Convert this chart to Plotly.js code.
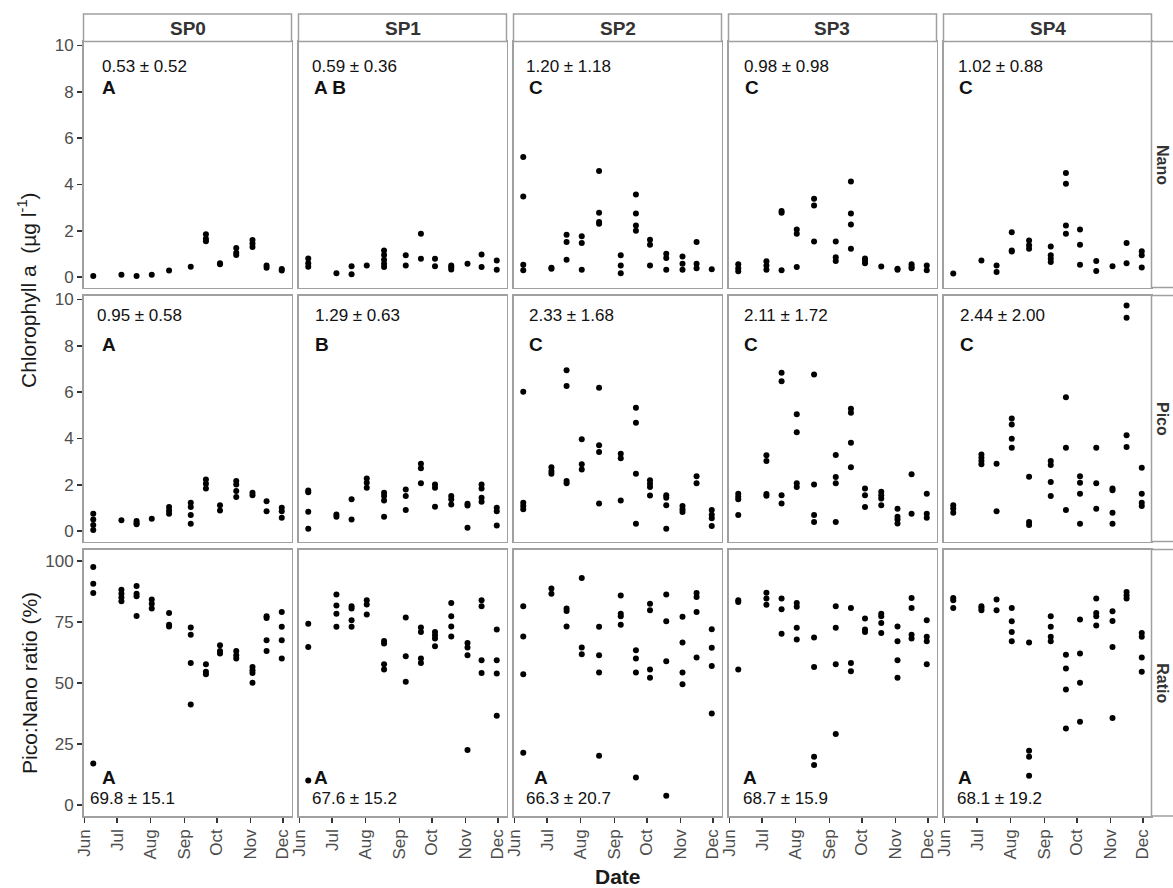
<!DOCTYPE html>
<html>
<head>
<meta charset="utf-8">
<script src="https://cdn.plot.ly/plotly-3.0.1.min.js"></script>
<style>html,body{margin:0;padding:0;background:#fff;}#chart{width:1173px;height:888px;}</style>
</head>
<body>
<div id="chart"></div>
<script>
// ---------------- DATA ----------------
const stations = ["SP0", "SP1", "SP2", "SP3", "SP4"];
const fractions = ["Nano", "Pico", "Ratio"];
const sampleDates = ["2014-06-09","2014-07-05","2014-07-19","2014-08-02","2014-08-18","2014-09-07","2014-09-21","2014-10-04","2014-10-19","2014-11-03","2014-11-16","2014-11-30"];
const monthTicks = ["2014-06-01","2014-07-01","2014-08-01","2014-09-01","2014-10-01","2014-11-01","2014-12-01"];
const monthLabels = ["Jun","Jul","Aug","Sep","Oct","Nov","Dec"];

// Nano chlorophyll a (µg/l), replicates per sampling date
const nanoSP0 = [[0.05],[0.1],[0.05],[0.1],[0.28],[0.45],[1.85,1.65,1.55],[0.6,0.55],[1.25,1.05,0.95],[1.6,1.45,1.3],[0.5,0.4],[0.35,0.28]];
const nanoSP1 = [[0.8,0.6,0.45],[0.17],[0.47,0.12],[0.5],[1.15,0.95,0.75,0.58,0.43],[0.94,0.5],[1.87,0.79],[0.79,0.47],[0.5,0.42,0.33],[0.58],[0.98,0.43],[0.72,0.32]];
const nanoSP2 = [[5.18,3.48,0.53,0.29],[0.4,0.36],[1.83,1.51,0.75],[1.76,1.47,0.32],[4.58,2.78,2.38,2.3],[0.94,0.5,0.17],[3.56,2.74,2.23,2.0],[1.61,1.4,0.5],[1.01,0.82,0.32],[0.89,0.58,0.32],[1.51,0.58,0.38],[0.34]];
const nanoSP3 = [[0.55,0.38,0.25],[0.68,0.5,0.32],[2.85,2.78,0.29],[2.05,1.87,0.43],[3.38,3.09,1.54],[1.54,0.86,0.69],[4.13,2.74,2.27,1.22],[0.8,0.7,0.6],[0.46],[0.36,0.32],[0.55,0.45,0.38],[0.5,0.29]];
const nanoSP4 = [[0.15],[0.72],[0.5,0.22],[1.94,1.15,1.1],[1.58,1.37,1.22],[1.32,0.94,0.79,0.65],[4.49,4.03,2.23,1.87],[2.05,1.4,0.53],[0.69,0.26],[0.47],[1.47,0.6],[1.11,0.94,0.41]];

// Pico chlorophyll a (µg/l)
const picoSP0 = [[0.75,0.5,0.26,0.05],[0.47],[0.43,0.35,0.3],[0.53],[1.04,0.89,0.75],[1.22,1.04,0.69,0.32],[2.23,2.04,1.84],[1.12,0.89],[2.16,2.01,1.73,1.47],[1.65,1.55],[1.29,0.86],[1.01,0.86,0.58]];
const picoSP1 = [[1.75,1.68,0.83,0.1],[0.72,0.62],[1.37,0.5],[2.27,2.09,1.87],[1.65,1.51,1.32,0.62],[1.8,1.51,0.91],[2.91,2.71,2.06],[2.01,1.87,1.05],[1.51,1.37,1.15],[1.18,1.1,0.14],[2.01,1.84,1.44,1.27],[1.01,0.86,0.24]];
const picoSP2 = [[6.01,1.22,1.08,0.94],[2.76,2.59,2.47],[6.94,6.26,2.16,2.06],[3.96,2.88,2.66],[6.19,3.7,3.41,1.19],[3.34,3.14,1.32],[5.32,4.68,2.47,0.32],[2.19,2.04,1.9,1.54],[1.55,1.44,1.12,0.1],[1.08,0.94,0.82],[2.37,2.06],[0.91,0.7,0.55,0.22]];
const picoSP3 = [[1.61,1.48,1.37,0.69],[3.27,3.02,1.6,1.52],[6.83,6.47,1.55,1.19],[5.04,4.27,2.06,1.9],[6.76,2.01,0.69,0.39],[3.28,2.33,2.06,0.39],[5.28,5.11,3.81,2.76],[1.84,1.55,1.04],[1.7,1.55,1.41,1.12],[0.96,0.62,0.5,0.33],[2.45,0.75],[1.61,0.75,0.58]];
const picoSP4 = [[1.12,0.98,0.79],[3.31,3.17,3.02,2.88],[2.91,0.86],[4.86,4.6,3.99,3.6],[2.35,0.39,0.26],[3.02,2.85,2.12,1.51],[5.78,3.6,0.91],[2.37,2.09,1.61,0.32],[3.6,2.06,0.96],[1.84,1.76,0.79,0.32],[9.74,9.21,4.14,3.63],[2.73,1.61,1.22,1.08]];

// Pico:Nano ratio (%)
const ratioSP0 = [[97.5,90.7,86.9,17.0],[88.2,86.6,85.0,83.5],[89.7,86.6,85.5,77.5],[84.2,82.5,80.5],[78.7,73.9,73.2],[72.7,69.8,58.2,41.2],[57.7,54.6,53.6],[65.5,63.1,62.1],[63.1,61.4,60.0],[56.6,55.2,54.1,50.1],[77.3,76.6,67.5,63.1],[79.1,73.0,67.5,60.0]];
const ratioSP1 = [[74.3,64.8,10.0],[86.3,81.8,78.4,73.0],[81.4,80.5,75.7,73.0],[83.9,82.2,78.1],[67.2,66.2,57.7,55.5],[76.8,61.0,50.5],[72.7,70.9,60.0,58.2],[70.9,69.6,68.2,65.1],[82.8,77.3,73.2,69.1],[66.4,64.5,61.4,22.5],[83.9,81.4,59.3,54.1],[71.9,59.3,53.9,36.6]];
const ratioSP2 = [[81.4,69.1,53.6,21.4],[88.7,86.6],[80.5,79.5,73.2],[93.0,64.5,61.8],[73.0,61.4,54.3,20.2],[85.9,78.4,77.3,73.9],[63.4,60.0,54.3,11.3],[82.5,79.8,55.5,52.2],[86.3,75.3,58.9,3.8],[77.1,66.6,54.3,49.5],[86.9,85.2,79.1,60.4],[72.0,64.4,57.0,37.5]];
const ratioSP3 = [[83.9,83.2,55.5],[87.0,84.6,82.1],[84.6,80.2,70.2],[82.8,81.2,72.6,67.8],[68.6,56.6,19.8,16.4],[81.4,72.6,57.7,29.1],[80.7,58.2,54.8],[76.4,71.9,70.9],[78.4,77.3,74.6,70.5],[73.2,67.1,59.3,52.2],[84.8,80.7,69.8,68.2],[75.7,68.9,67.1,57.7]];
const ratioSP4 = [[84.8,83.9,80.7],[81.4,80.7,79.8],[84.2,79.8],[80.7,75.3,70.9,67.1],[66.6,22.2,19.8,12.0],[77.3,73.0,68.9,67.1],[61.6,55.9,47.3,31.4],[76.0,62.1,50.1,34.1],[84.6,78.7,77.3,73.6],[79.4,75.4,64.8,35.7],[87.3,85.9,84.6],[70.5,68.9,60.4,54.6]];

// Mean ± SD and significance groups per station
const nanoStats  = ["0.53 ± 0.52","0.59 ± 0.36","1.20 ± 1.18","0.98 ± 0.98","1.02 ± 0.88"];
const nanoGroups = ["A","A B","C","C","C"];
const picoStats  = ["0.95 ± 0.58","1.29 ± 0.63","2.33 ± 1.68","2.11 ± 1.72","2.44 ± 2.00"];
const picoGroups = ["A","B","C","C","C"];
const ratioStats  = ["69.8 ± 15.1","67.6 ± 15.2","66.3 ± 20.7","68.7 ± 15.9","68.1 ± 19.2"];
const ratioGroups = ["A","A","A","A","A"];

// ---------------- BUILD ----------------
const W = 1173, H = 888;
const FONT = "Liberation Sans, Arial, Helvetica, sans-serif";
const BORDER = "#a0a0a0";
const values = [
  [nanoSP0, nanoSP1, nanoSP2, nanoSP3, nanoSP4],
  [picoSP0, picoSP1, picoSP2, picoSP3, picoSP4],
  [ratioSP0, ratioSP1, ratioSP2, ratioSP3, ratioSP4]
];
const stats = [nanoStats, picoStats, ratioStats];
const groups = [nanoGroups, picoGroups, ratioGroups];

const colLeft = [83.5, 298.5, 513.5, 728.5, 943.5];
const colW = 208;
const rowTop = [41.5, 295.5, 549.5];
const rowBot = [287.5, 541.5, 816];
const yRanges = [[-0.45, 10.17], [-0.45, 10.17], [-4.5, 104.7]];
const yTicks = [[0,2,4,6,8,10],[0,2,4,6,8,10],[0,25,50,75,100]];

const px = x => x / W;
const py = y => 1 - y / H;

const traces = [];
const layout = {
  width: W, height: H,
  margin: {l: 0, r: 0, t: 0, b: 0},
  paper_bgcolor: "#fff", plot_bgcolor: "#fff",
  showlegend: false,
  font: {family: FONT, color: "#222"},
  shapes: [], annotations: []
};

const statOff = [[16.5, 11.8, 10.8, 13.2, 12.2],[11.5, 14.2, 13.2, 13.2, 14.8],[4.9, 11.9, 10.5, 12.5, 11.3]];
const grpOff  = [[16.5, 13.2, 13.2, 14.2, 13.2],[16.5, 14.2, 13.2, 13.5, 14.8],[16.2, 13, 18.2, 12.5, 12.1]];
const statY = [66, 316, 798];
const grpY  = [87, 344, 777.5];

for (let r = 0; r < 3; r++) {
  for (let c = 0; c < 5; c++) {
    const idx = r * 5 + c + 1;
    const xs = [], ys = [];
    values[r][c].forEach((reps, d) => reps.forEach(v => { xs.push(sampleDates[d]); ys.push(v); }));
    traces.push({
      type: "scatter", mode: "markers",
      x: xs, y: ys,
      xaxis: "x" + idx, yaxis: "y" + idx,
      marker: {color: "#000", size: 6},
      hoverinfo: "x+y"
    });
    const xa = {
      type: "date",
      domain: [px(colLeft[c]), px(colLeft[c] + colW)],
      anchor: "y" + idx,
      range: ["2014-05-31", "2014-12-09"],
      showgrid: false, zeroline: false,
      showline: true, mirror: true, linecolor: BORDER, linewidth: 1.5,
      tickvals: monthTicks, ticktext: monthLabels,
      fixedrange: true
    };
    if (r === 2) {
      Object.assign(xa, {ticks: "outside", ticklen: 5, tickwidth: 1.5, tickcolor: "#333",
        showticklabels: true, tickangle: -90,
        tickfont: {family: FONT, size: 17, color: "#4d4d4d"}});
    } else {
      Object.assign(xa, {ticks: "", showticklabels: false});
    }
    const ya = {
      domain: [py(rowBot[r]), py(rowTop[r])],
      anchor: "x" + idx,
      range: yRanges[r],
      showgrid: false, zeroline: false,
      showline: true, mirror: true, linecolor: BORDER, linewidth: 1.5,
      tickvals: yTicks[r],
      fixedrange: true
    };
    if (c === 0) {
      Object.assign(ya, {ticks: "outside", ticklen: 5, tickwidth: 1.5, tickcolor: "#333",
        showticklabels: true, tickfont: {family: FONT, size: 17, color: "#4d4d4d"}});
    } else {
      Object.assign(ya, {ticks: "", showticklabels: false});
    }
    layout["xaxis" + (idx === 1 ? "" : idx)] = xa;
    layout["yaxis" + (idx === 1 ? "" : idx)] = ya;

    layout.annotations.push({
      xref: "paper", yref: "paper", x: px(colLeft[c] + statOff[r][c]), y: py(statY[r]),
      xanchor: "left", yanchor: "middle", showarrow: false,
      text: stats[r][c], font: {family: FONT, size: 17, color: "#111"}
    });
    layout.annotations.push({
      xref: "paper", yref: "paper", x: px(colLeft[c] + grpOff[r][c]), y: py(grpY[r]),
      xanchor: "left", yanchor: "middle", showarrow: false,
      text: "<b>" + groups[r][c] + "</b>", font: {family: FONT, size: 19, color: "#111"}
    });
  }
}

// top strips
for (let c = 0; c < 5; c++) {
  layout.shapes.push({type: "rect", xref: "paper", yref: "paper",
    x0: px(colLeft[c]), x1: px(colLeft[c] + colW), y0: py(41.5), y1: py(14),
    fillcolor: "#fff", line: {color: BORDER, width: 1.5}});
  layout.annotations.push({xref: "paper", yref: "paper",
    x: px(colLeft[c] + colW / 2), y: py(28), xanchor: "center", yanchor: "middle",
    showarrow: false, text: "<b>" + stations[c] + "</b>",
    font: {family: FONT, size: 19, color: "#333"}});
}
// right strips
for (let r = 0; r < 3; r++) {
  layout.shapes.push({type: "rect", xref: "paper", yref: "paper",
    x0: px(1151.5), x1: px(1195), y0: py(rowBot[r]), y1: py(rowTop[r]),
    fillcolor: "#fff", line: {color: BORDER, width: 1.5}});
  layout.annotations.push({xref: "paper", yref: "paper",
    x: px(1162.5), y: py((rowTop[r] + rowBot[r]) / 2), xanchor: "center", yanchor: "middle",
    showarrow: false, textangle: 90, text: "<b>" + fractions[r] + "</b>",
    font: {family: FONT, size: 16, color: "#333"}});
}

// axis titles
layout.annotations.push({xref: "paper", yref: "paper", x: px(27), y: py(290),
  xanchor: "center", yanchor: "middle", showarrow: false, textangle: -90,
  text: "Chlorophyll a  (µg l<sup>-1</sup>)", font: {family: FONT, size: 21, color: "#1a1a1a"}});
layout.annotations.push({xref: "paper", yref: "paper", x: px(29), y: py(683),
  xanchor: "center", yanchor: "middle", showarrow: false, textangle: -90,
  text: "Pico:Nano ratio (%)", font: {family: FONT, size: 21, color: "#1a1a1a"}});
layout.annotations.push({xref: "paper", yref: "paper", x: px(617.5), y: py(876),
  xanchor: "center", yanchor: "middle", showarrow: false,
  text: "<b>Date</b>", font: {family: FONT, size: 21, color: "#1a1a1a"}});

Plotly.newPlot("chart", traces, layout, {displayModeBar: false, staticPlot: true});
</script>
</body>
</html>
